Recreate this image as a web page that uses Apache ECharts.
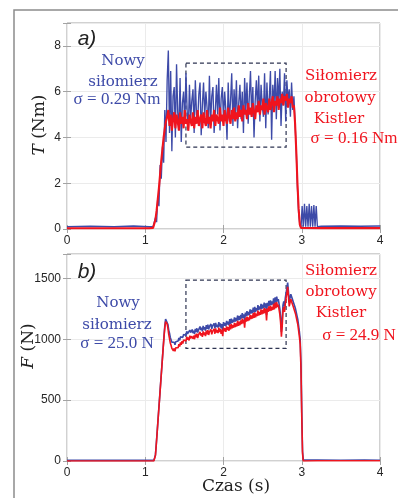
<!DOCTYPE html>
<html>
<head>
<meta charset="utf-8">
<script src="https://cdn.jsdelivr.net/npm/echarts@6/dist/echarts.min.js"></script>
<style>
html,body{margin:0;padding:0;background:#fff;}
#chart{width:398px;height:498px;}
</style>
</head>
<body>
<div id="chart"></div>
<script>
// ---------- DATA ----------
const timeTicks = [0, 1, 2, 3, 4];
const torqueTicks = [0, 2, 4, 6, 8];
const forceTicks = [0, 500, 1000, 1500];

// Panel a) torque T (Nm)
const topPreTimes = [0, 0.3, 0.6, 0.85, 1.05];
const blueTPre = [0.1, 0.12, 0.1, 0.13, 0.1];
const redTPre = [0.03, 0.03, 0.03, 0.03, 0.03];
// sampled every 0.015 s from 1.10 s
const topStart = 1.10, topStep = 0.015;
const blueT = [
  0.1, 0.15, 0.5, 0.3, 1.4, 1.0, 2.8, 2.2, 3.6, 2.9, 5.2, 3.8,
  6.5, 7.8, 4.2, 6.9, 3.4, 5.8, 6.2, 4.0, 7.2, 5.1, 4.4, 6.6, 3.8, 5.5, 6.0, 4.6, 6.8, 5.2, 4.3,
  6.3, 4.8, 5.6, 6.1, 4.2, 6.5, 5.0, 4.7, 5.9, 6.4, 4.1, 5.4, 6.4, 4.9, 6.0, 5.3, 4.4, 6.7, 4.6, 5.8,
  6.2, 4.2, 5.1, 6.3, 5.0, 6.6, 4.3, 5.7, 6.2, 4.8, 6.0, 5.2, 3.9, 6.4, 4.7, 5.6, 6.8, 4.5, 6.1, 5.0,
  6.5, 4.4, 5.5, 6.3, 4.8, 6.0, 4.2, 6.6, 5.1, 6.4, 4.6, 5.8, 6.9, 4.9, 6.2, 4.0, 5.6, 6.5, 5.2, 6.7,
  4.7, 6.3, 5.4, 4.9, 6.8, 4.4, 6.4, 5.0, 5.7, 6.9, 3.9, 6.3, 5.3, 6.9, 4.8, 6.6, 5.5, 7.0, 4.5, 6.0,
  5.4, 6.8, 4.7, 6.5, 5.6, 6.1, 4.9, 6.4, 5.2, 5.8,
  4.6, 3.4, 1.8, 0.7, 0.2, 0.05,
  1.0, 0.1, 1.1, 0.1, 1.0, 0.1, 1.1, 0.1, 1.0, 0.1, 1.05, 0.1, 1.0, 0.1
];
const redT = [
  0.05, 0.1, 0.4, 0.8, 1.3, 1.8, 2.4, 3.0, 3.5, 4.0, 4.4, 4.7,
  4.9, 5.2, 4.5, 5.0, 4.3, 4.8, 5.1, 4.4, 5.0, 4.7, 4.3, 5.1, 4.6, 4.9, 4.4, 5.2, 4.6, 4.8, 4.3,
  5.0, 4.7, 4.5, 5.1, 4.4, 4.9, 4.6, 5.2, 4.5, 4.8, 5.0, 4.4, 5.1, 4.7, 4.5, 5.2, 4.6, 4.9, 4.4, 5.0,
  4.7, 5.2, 4.5, 5.0, 4.8, 4.6, 5.3, 4.7, 5.0, 4.5, 5.2, 4.8, 4.6, 5.3, 4.9, 4.6, 5.2, 4.8, 5.3, 4.7,
  5.1, 4.8, 5.4, 4.9, 5.2, 4.7, 5.4, 5.0, 5.2, 4.8, 5.5, 5.0, 5.3, 4.9, 5.5, 5.1, 4.8, 5.4, 5.1, 5.6,
  5.0, 5.4, 5.2, 5.7, 5.0, 5.5, 5.3, 5.1, 5.7, 5.2, 5.5, 5.8, 5.1, 5.6, 5.4, 5.8, 5.2, 5.7, 5.5, 5.9,
  5.4, 5.8, 5.6, 5.9, 5.3, 5.7, 5.5, 5.8, 5.3, 5.4,
  4.6, 3.4, 2.0, 0.9, 0.2, 0.05
];
const topPostTimes = [3.25, 3.5, 3.75, 4.0];
const blueTPost = [0.12, 0.13, 0.12, 0.13];
const redTPost = [0.04, 0.04, 0.04, 0.04];

// Panel b) force F (N)
const botPreTimes = [0, 0.3, 0.6, 0.9, 1.08];
const blueFPre = [5, 6, 5, 6, 5];
const redFPre = [0, 0, 0, 0, 0];
// sampled every 0.01 s from 1.10 s
const botStart = 1.10, botStep = 0.01;
const blueF = [
  5, 5, 8, 50, 130, 220, 310, 400, 490, 580,
  670, 760, 850, 940, 1030, 1110, 1165, 1180, 1150, 1120,
  1075, 1050, 1015, 1000, 975, 985, 960, 975, 955, 980,
  970, 995, 985, 1010, 990, 1020, 1005, 1030, 1015, 1040,
  1025, 1050, 1030, 1065, 1045, 1060, 1040, 1075, 1055, 1070,
  1080, 1050, 1070, 1045, 1085, 1060, 1090, 1055, 1075, 1065,
  1105, 1075, 1095, 1065, 1110, 1080, 1100, 1070, 1115, 1085,
  1120, 1080, 1105, 1090, 1125, 1085, 1110, 1095, 1130, 1090,
  1135, 1100, 1120, 1095, 1140, 1105, 1130, 1090, 1125, 1070,
  1140, 1110, 1135, 1105, 1150, 1120, 1145, 1115, 1165, 1125,
  1170, 1135, 1160, 1140, 1180, 1145, 1175, 1150, 1195, 1155,
  1190, 1160, 1200, 1170, 1215, 1175, 1205, 1140, 1220, 1190,
  1230, 1195, 1225, 1200, 1245, 1210, 1240, 1215, 1260, 1220,
  1265, 1225, 1255, 1235, 1280, 1240, 1270, 1245, 1290, 1250,
  1285, 1255, 1300, 1260, 1295, 1200, 1300, 1270, 1315, 1275,
  1320, 1280, 1310, 1285, 1335, 1290, 1345, 1300, 1350, 1310,
  1330, 1290, 1250, 1180, 1060, 1150, 1280, 1310, 1270, 1340,
  1380, 1420, 1465, 1390, 1310, 1340, 1370, 1355, 1330, 1310,
  1295, 1270, 1250, 1220, 1190, 1160, 1110, 1060, 1000, 800,
  400, 80, 8
];
const redF = [
  0, 0, 3, 45, 125, 215, 305, 395, 485, 575,
  665, 755, 845, 935, 1020, 1095, 1145, 1160, 1125, 1090,
  1040, 1005, 970, 950, 925, 935, 905, 925, 900, 930,
  915, 945, 930, 960, 940, 975, 955, 985, 965, 995,
  980, 1005, 985, 1020, 995, 1015, 990, 1030, 1005, 1025,
  1035, 1005, 1030, 1000, 1040, 1015, 1045, 1010, 1035, 1020,
  1060, 1030, 1050, 1020, 1065, 1035, 1055, 1025, 1070, 1040,
  1075, 1035, 1060, 1045, 1080, 1040, 1065, 1050, 1085, 1045,
  1090, 1055, 1075, 1050, 1095, 1060, 1085, 1045, 1080, 1025,
  1095, 1065, 1090, 1060, 1105, 1075, 1100, 1070, 1120, 1080,
  1125, 1090, 1115, 1095, 1135, 1100, 1130, 1105, 1150, 1110,
  1145, 1115, 1155, 1125, 1170, 1130, 1160, 1095, 1175, 1145,
  1185, 1150, 1180, 1155, 1200, 1165, 1195, 1170, 1215, 1175,
  1220, 1180, 1210, 1190, 1235, 1195, 1225, 1200, 1245, 1205,
  1240, 1210, 1255, 1215, 1250, 1155, 1255, 1225, 1270, 1230,
  1275, 1235, 1265, 1240, 1290, 1245, 1300, 1255, 1305, 1265,
  1285, 1245, 1205, 1135, 1020, 1105, 1235, 1265, 1225, 1295,
  1340, 1380, 1430, 1350, 1270, 1300, 1330, 1315, 1290, 1270,
  1255, 1230, 1210, 1180, 1150, 1120, 1070, 1020, 960, 760,
  370, 60, 0
];
const botPostTimes = [3.2, 3.5, 3.8, 4.0];
const blueFPost = [8, 6, 8, 6];
const redFPost = [2, 2, 2, 2];

// dashed annotation boxes [x1, y1, x2, y2] in data units
const boxTop = [1.52, 3.58, 2.80, 7.25];
const boxBot = [1.52, 925, 2.80, 1485];

// ---------- BUILD ----------
function pairs(times, vals) { return times.map((t, i) => [t, vals[i]]); }
function sampled(t0, dt, vals) { return vals.map((v, i) => [+(t0 + dt * i).toFixed(4), v]); }

const blueTData = pairs(topPreTimes, blueTPre).concat(sampled(topStart, topStep, blueT), pairs(topPostTimes, blueTPost));
const redTData = pairs(topPreTimes, redTPre).concat(sampled(topStart, topStep, redT), pairs(topPostTimes, redTPost));
const blueFData = pairs(botPreTimes, blueFPre).concat(sampled(botStart, botStep, blueF), pairs(botPostTimes, blueFPost));
const redFData = pairs(botPreTimes, redFPre).concat(sampled(botStart, botStep, redF), pairs(botPostTimes, redFPost));

const BLUE = '#3d4aa8';
const RED = '#f0141e';
const AXC = '#a3a3a3';
const LBL = '#262626';
const SERIF = 'DejaVu Serif';
const SERIF2 = 'Liberation Serif';
const SANS = 'Liberation Sans';

function xAx(grid, pos, labels) {
  return {
    type: 'value', gridIndex: grid, position: pos, min: timeTicks[0], max: timeTicks[timeTicks.length - 1], interval: 1,
    axisLine: { show: false },
    axisTick: { show: true, inside: true, length: 4, lineStyle: { color: AXC } },
    axisLabel: { show: labels, color: LBL, fontFamily: SANS, fontSize: 12, margin: 6 },
    splitLine: { show: labels, lineStyle: { color: '#ebebeb', width: 1 } }
  };
}
function yAx(grid, pos, labels, ticks, max) {
  const step = ticks[1] - ticks[0];
  return {
    type: 'value', gridIndex: grid, position: pos, min: ticks[0], max: max, interval: step,
    axisLine: { show: false },
    axisTick: { show: true, inside: true, length: 4, lineStyle: { color: AXC } },
    axisLabel: { show: labels, color: LBL, fontFamily: SANS, fontSize: 12, margin: 6,
      formatter: v => (ticks.indexOf(v) >= 0 ? String(v) : '') },
    splitLine: { show: labels, lineStyle: { color: '#ebebeb', width: 1 } }
  };
}
function box(b) {
  return {
    silent: true,
    itemStyle: { color: 'rgba(0,0,0,0)', borderColor: '#2e3452', borderWidth: 1.2, borderType: [4, 3] },
    data: [[{ coord: [b[0], b[3]] }, { coord: [b[2], b[1]] }]]
  };
}
function line(name, data, color, width, xi, yi, z) {
  return { name, type: 'line', data, xAxisIndex: xi, yAxisIndex: yi, showSymbol: false, symbol: 'none',
    sampling: 'none', z, lineStyle: { color, width }, itemStyle: { color } };
}
function txt(x, y, text, color, size, family) {
  return {
    type: 'text', x, y, silent: true, z: 100,
    style: { text, fill: color, fontFamily: family || SERIF, fontSize: size,
      align: 'center', textAlign: 'center', verticalAlign: 'middle', textVerticalAlign: 'middle' }
  };
}

const chart = echarts.init(document.getElementById('chart'), null, { renderer: 'canvas' });
chart.setOption({
  animation: false,
  backgroundColor: '#fff',
  grid: [
    { left: 67, right: 18, top: 23, height: 206, show: true, borderColor: AXC, borderWidth: 1, backgroundColor: '#fff' },
    { left: 67, right: 18, top: 254, height: 207, show: true, borderColor: AXC, borderWidth: 1, backgroundColor: '#fff' }
  ],
  xAxis: [xAx(0, 'bottom', true), xAx(0, 'top', false), xAx(1, 'bottom', true), xAx(1, 'top', false)],
  yAxis: [yAx(0, 'left', true, torqueTicks, 9), yAx(0, 'right', false, torqueTicks, 9),
          yAx(1, 'left', true, forceTicks, 1700), yAx(1, 'right', false, forceTicks, 1700)],
  series: [
    line('Nowy siłomierz T', blueTData, BLUE, 1.35, 0, 0, 2),
    line('Kistler T', redTData, RED, 2.1, 0, 0, 3),
    Object.assign(line('boxA', [], BLUE, 0, 0, 0, 5), { markArea: box(boxTop) }),
    line('Nowy siłomierz F', blueFData, BLUE, 1.6, 2, 2, 2),
    line('Kistler F', redFData, RED, 1.6, 2, 2, 3),
    Object.assign(line('boxB', [], BLUE, 0, 2, 2, 5), { markArea: box(boxBot) })
  ],
  graphic: [
    { type: 'rect', silent: true, z: 0, shape: { x: 14, y: 10, width: 440, height: 530 },
      style: { fill: 'rgba(0,0,0,0)', stroke: '#8c8c8c', lineWidth: 1.5 } },
    { type: 'text', x: 87, y: 39, z: 100, silent: true,
      style: { text: 'a)', fill: '#222', fontFamily: SANS, fontStyle: 'italic', fontSize: 21,
        align: 'center', textAlign: 'center', verticalAlign: 'middle', textVerticalAlign: 'middle' } },
    { type: 'text', x: 87, y: 272, z: 100, silent: true,
      style: { text: 'b)', fill: '#222', fontFamily: SANS, fontStyle: 'italic', fontSize: 21,
        align: 'center', textAlign: 'center', verticalAlign: 'middle', textVerticalAlign: 'middle' } },
    { type: 'text', x: 40, y: 125, rotation: Math.PI / 2, z: 100, silent: true,
      style: { text: '{i|T} (Nm)', fill: '#222', fontFamily: SERIF, fontSize: 17,
        rich: { i: { fontStyle: 'italic', fontFamily: SERIF, fontSize: 17, fill: '#222' } },
        align: 'center', textAlign: 'center', verticalAlign: 'middle', textVerticalAlign: 'middle' } },
    { type: 'text', x: 29, y: 346, rotation: Math.PI / 2, z: 100, silent: true,
      style: { text: '{i|F} (N)', fill: '#222', fontFamily: SERIF, fontSize: 17,
        rich: { i: { fontStyle: 'italic', fontFamily: SERIF, fontSize: 17, fill: '#222' } },
        align: 'center', textAlign: 'center', verticalAlign: 'middle', textVerticalAlign: 'middle' } },
    txt(236, 487, 'Czas (s)', '#222', 17),
    txt(123, 61, 'Nowy', BLUE, 15),
    txt(123, 82, 'siłomierz', BLUE, 15),
    txt(117, 100, 'σ = 0.29 Nm', BLUE, 17, SERIF2),
    txt(341, 76, 'Siłomierz', RED, 15),
    txt(340, 98, 'obrotowy', RED, 15),
    txt(339, 119, 'Kistler', RED, 15),
    txt(354, 139, 'σ = 0.16 Nm', RED, 17, SERIF2),
    txt(118, 303, 'Nowy', BLUE, 15),
    txt(117, 325, 'siłomierz', BLUE, 15),
    txt(117, 344, 'σ = 25.0 N', BLUE, 17, SERIF2),
    txt(341, 271, 'Siłomierz', RED, 15),
    txt(341, 292, 'obrotowy', RED, 15),
    txt(341, 313, 'Kistler', RED, 15),
    txt(359, 336, 'σ = 24.9 N', RED, 17, SERIF2)
  ]
});
</script>
</body>
</html>
